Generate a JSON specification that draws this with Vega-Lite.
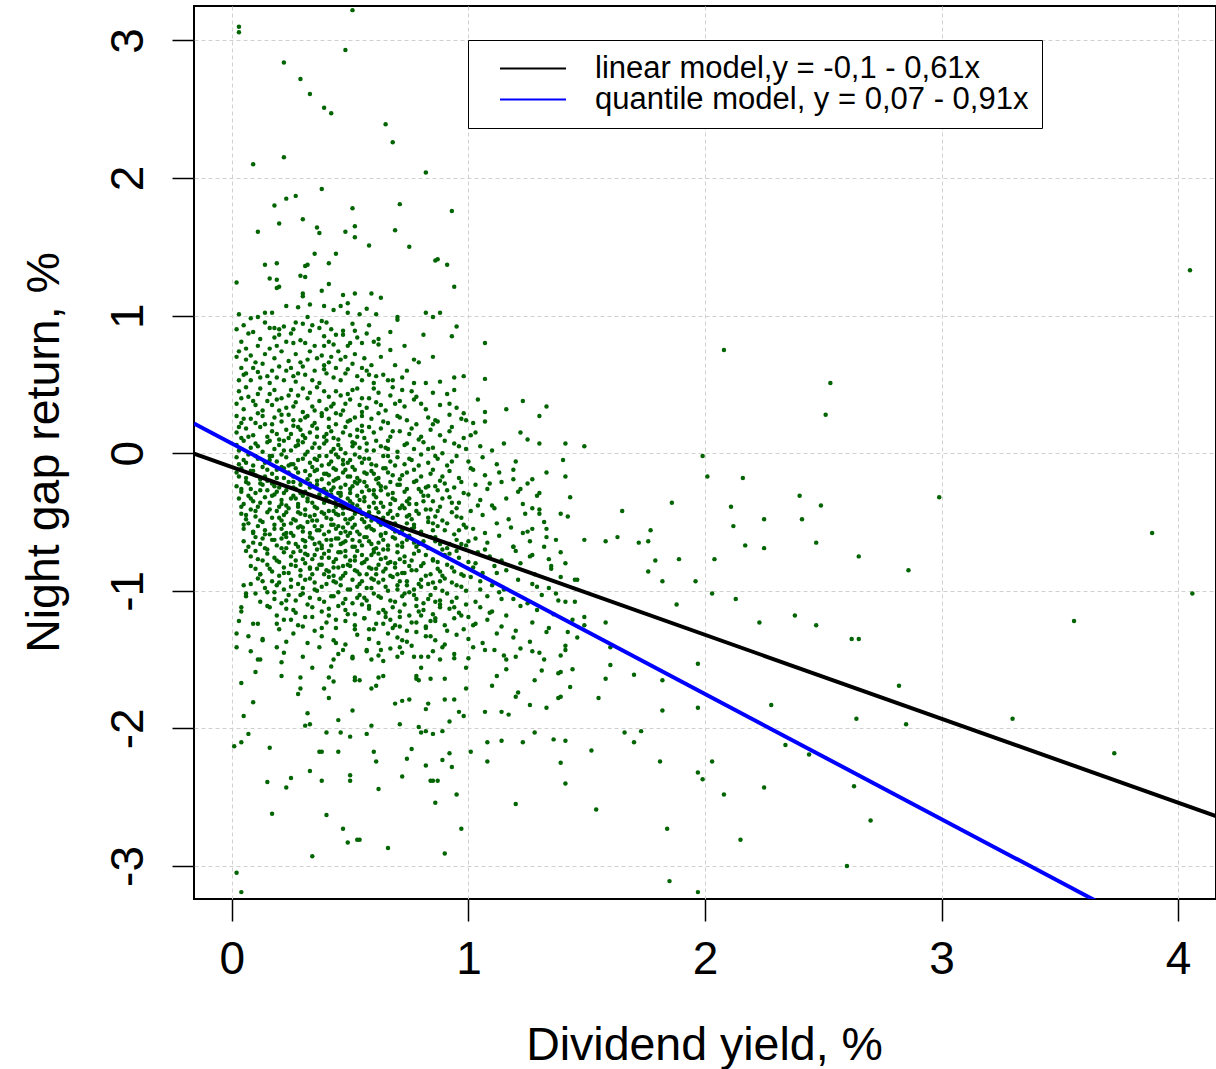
{
"$schema": "https://vega.github.io/schema/vega-lite/v6.json",
"width": 1022, "height": 893,
"autosize": "none",
"padding": {"left": 194, "top": 6, "right": 0, "bottom": 170},
"background": "white",
"config": {"view": {"stroke": "black", "strokeWidth": 2}, "font": "Liberation Sans"},
"layer": [
{
"data": {"values": [
{"x":0.51,"y":3.22},{"x":0.03,"y":3.10},{"x":0.03,"y":3.06},{"x":0.48,"y":2.93},{"x":0.22,"y":2.84},{"x":0.29,"y":2.72},{"x":0.33,"y":2.61},{"x":0.39,"y":2.51},{"x":0.42,"y":2.47},{"x":0.65,"y":2.39},{"x":0.68,"y":2.26},{"x":0.09,"y":2.10},{"x":0.22,"y":2.15},{"x":0.82,"y":2.04},{"x":0.38,"y":1.92},{"x":0.18,"y":1.80},{"x":0.23,"y":1.85},{"x":0.27,"y":1.87},{"x":0.51,"y":1.78},{"x":0.71,"y":1.81},{"x":0.93,"y":1.76},{"x":0.11,"y":1.61},{"x":0.20,"y":1.67},{"x":0.30,"y":1.70},{"x":0.36,"y":1.64},{"x":0.37,"y":1.60},{"x":0.48,"y":1.61},{"x":0.52,"y":1.65},{"x":0.52,"y":1.57},{"x":0.58,"y":1.51},{"x":0.69,"y":1.62},{"x":0.75,"y":1.50},{"x":0.35,"y":1.45},{"x":0.44,"y":1.45},{"x":0.14,"y":1.37},{"x":0.19,"y":1.38},{"x":0.32,"y":1.37},{"x":0.31,"y":1.36},{"x":0.41,"y":1.38},{"x":0.87,"y":1.41},{"x":0.86,"y":1.40},{"x":0.91,"y":1.37},{"x":0.02,"y":1.24},{"x":0.16,"y":1.27},{"x":0.19,"y":1.26},{"x":0.20,"y":1.21},{"x":0.19,"y":1.20},{"x":0.29,"y":1.29},{"x":0.31,"y":1.28},{"x":0.30,"y":1.16},{"x":0.30,"y":1.14},{"x":0.38,"y":1.18},{"x":0.41,"y":1.23},{"x":0.47,"y":1.15},{"x":0.52,"y":1.16},{"x":0.59,"y":1.16},{"x":0.63,"y":1.13},{"x":0.94,"y":1.21},
{"x":0.23,"y":1.07},{"x":0.28,"y":1.06},{"x":0.33,"y":1.08},{"x":0.39,"y":1.07},{"x":0.43,"y":1.04},{"x":0.46,"y":1.07},{"x":0.49,"y":1.09},{"x":0.49,"y":1.02},{"x":0.54,"y":1.01},{"x":0.57,"y":1.05},{"x":0.03,"y":1.01},{"x":0.08,"y":0.98},{"x":0.11,"y":0.99},{"x":0.14,"y":1.02},{"x":0.17,"y":1.02},{"x":0.82,"y":1.02},{"x":0.85,"y":0.99},{"x":0.88,"y":1.02},{"x":0.70,"y":0.99},{"x":0.70,"y":0.97},{"x":0.61,"y":1.01},
{"x":0.02,"y":0.90},{"x":0.07,"y":0.87},{"x":0.12,"y":0.83},{"x":0.16,"y":0.91},{"x":0.18,"y":0.91},{"x":0.20,"y":0.90},{"x":0.20,"y":0.86},{"x":0.26,"y":0.90},{"x":0.27,"y":0.95},{"x":0.30,"y":0.94},{"x":0.32,"y":0.99},{"x":0.34,"y":0.93},{"x":0.38,"y":0.96},{"x":0.40,"y":0.95},{"x":0.42,"y":0.90},{"x":0.39,"y":0.85},{"x":0.47,"y":0.89},{"x":0.47,"y":0.86},{"x":0.51,"y":0.94},{"x":0.53,"y":0.84},{"x":0.57,"y":0.87},{"x":0.62,"y":0.83},{"x":0.67,"y":0.88},{"x":0.81,"y":0.86},{"x":0.93,"y":0.85},{"x":0.95,"y":0.92},{"x":0.04,"y":0.81},{"x":0.06,"y":0.76},{"x":0.11,"y":0.78},{"x":0.16,"y":0.76},{"x":0.19,"y":0.78},{"x":0.23,"y":0.81},{"x":0.26,"y":0.80},{"x":0.31,"y":0.80},{"x":0.35,"y":0.78},{"x":0.39,"y":0.78},{"x":0.41,"y":0.81},{"x":0.43,"y":0.79},{"x":0.49,"y":0.78},{"x":0.50,"y":0.80},{"x":0.55,"y":0.80},{"x":0.60,"y":0.81},{"x":0.62,"y":0.79},{"x":1.07,"y":0.80},
{"x":0.04,"y":0.62},{"x":0.06,"y":0.58},{"x":0.03,"y":0.53},{"x":0.08,"y":0.53},{"x":0.12,"y":0.55},{"x":0.15,"y":0.56},{"x":0.20,"y":0.63},{"x":0.24,"y":0.67},{"x":0.28,"y":0.58},{"x":0.30,"y":0.63},{"x":0.32,"y":0.68},{"x":0.36,"y":0.69},{"x":0.39,"y":0.64},{"x":0.40,"y":0.58},{"x":0.42,"y":0.70},{"x":0.44,"y":0.62},{"x":0.49,"y":0.61},{"x":0.51,"y":0.65},{"x":0.53,"y":0.56},{"x":0.56,"y":0.69},{"x":0.59,"y":0.64},{"x":0.61,"y":0.56},{"x":0.64,"y":0.57},{"x":0.67,"y":0.75},{"x":0.68,"y":0.53},{"x":0.72,"y":0.55},{"x":0.73,"y":0.78},{"x":0.77,"y":0.68},{"x":0.79,"y":0.66},{"x":0.85,"y":0.70},{"x":0.98,"y":0.56},{"x":1.07,"y":0.54},{"x":0.06,"y":0.68},{"x":0.11,"y":0.59},{"x":0.16,"y":0.51},{"x":0.22,"y":0.53},{"x":0.27,"y":0.52},{"x":0.34,"y":0.53},{"x":0.37,"y":0.51},{"x":0.46,"y":0.53},{"x":0.55,"y":0.53},{"x":0.60,"y":0.51},{"x":0.66,"y":0.53},{"x":0.77,"y":0.51},{"x":0.82,"y":0.51},{"x":0.88,"y":0.52},{"x":0.94,"y":0.55},{"x":0.02,"y":0.70},{"x":0.13,"y":0.65},{"x":0.25,"y":0.62},{"x":0.35,"y":0.60},{"x":0.46,"y":0.68},{"x":0.57,"y":0.60},{"x":0.74,"y":0.60},
{"x":1.04,"y":0.39},{"x":1.23,"y":0.38},{"x":1.33,"y":0.34},{"x":1.16,"y":0.32},{"x":1.30,"y":0.27},{"x":1.07,"y":0.30},{"x":1.07,"y":0.23},{"x":1.01,"y":0.13},{"x":0.99,"y":0.24},{"x":0.98,"y":0.29},{"x":0.94,"y":0.46},{"x":0.92,"y":0.36},{"x":0.85,"y":0.21},{"x":1.22,"y":0.15},{"x":1.25,"y":0.10},{"x":1.30,"y":0.07},{"x":1.15,"y":0.07},
{"x":0.03,"y":0.45},{"x":0.07,"y":0.41},{"x":0.12,"y":0.47},{"x":0.16,"y":0.43},{"x":0.21,"y":0.40},{"x":0.25,"y":0.46},{"x":0.28,"y":0.42},{"x":0.33,"y":0.44},{"x":0.36,"y":0.48},{"x":0.41,"y":0.41},{"x":0.44,"y":0.45},{"x":0.49,"y":0.43},{"x":0.53,"y":0.47},{"x":0.58,"y":0.40},{"x":0.62,"y":0.44},{"x":0.67,"y":0.42},{"x":0.72,"y":0.46},{"x":0.78,"y":0.41},{"x":0.85,"y":0.44},{"x":0.91,"y":0.43},
{"x":0.02,"y":0.36},{"x":0.05,"y":0.32},{"x":0.09,"y":0.38},{"x":0.13,"y":0.31},{"x":0.17,"y":0.35},{"x":0.19,"y":0.39},{"x":0.23,"y":0.33},{"x":0.27,"y":0.37},{"x":0.30,"y":0.30},{"x":0.34,"y":0.34},{"x":0.37,"y":0.38},{"x":0.40,"y":0.32},{"x":0.43,"y":0.36},{"x":0.47,"y":0.31},{"x":0.50,"y":0.39},{"x":0.54,"y":0.35},{"x":0.57,"y":0.33},{"x":0.61,"y":0.37},{"x":0.65,"y":0.31},{"x":0.69,"y":0.36},{"x":0.73,"y":0.34},{"x":0.77,"y":0.39},{"x":0.82,"y":0.32},{"x":0.88,"y":0.35},{"x":0.95,"y":0.33},
{"x":0.02,"y":0.27},{"x":0.04,"y":0.22},{"x":0.08,"y":0.25},{"x":0.11,"y":0.29},{"x":0.14,"y":0.21},{"x":0.18,"y":0.26},{"x":0.21,"y":0.23},{"x":0.24,"y":0.28},{"x":0.26,"y":0.20},{"x":0.29,"y":0.24},{"x":0.32,"y":0.27},{"x":0.35,"y":0.22},{"x":0.38,"y":0.29},{"x":0.41,"y":0.25},{"x":0.44,"y":0.21},{"x":0.46,"y":0.28},{"x":0.49,"y":0.23},{"x":0.52,"y":0.26},{"x":0.55,"y":0.20},{"x":0.59,"y":0.25},{"x":0.62,"y":0.29},{"x":0.66,"y":0.22},{"x":0.70,"y":0.27},{"x":0.74,"y":0.24},{"x":0.78,"y":0.21},{"x":0.83,"y":0.26},{"x":0.87,"y":0.23},{"x":0.92,"y":0.28},{"x":0.97,"y":0.25},{"x":1.02,"y":0.22},
{"x":0.02,"y":0.15},{"x":0.04,"y":0.11},{"x":0.06,"y":0.18},{"x":0.09,"y":0.13},{"x":0.12,"y":0.19},{"x":0.15,"y":0.12},{"x":0.17,"y":0.16},{"x":0.20,"y":0.10},{"x":0.23,"y":0.17},{"x":0.25,"y":0.14},{"x":0.28,"y":0.19},{"x":0.31,"y":0.11},{"x":0.33,"y":0.15},{"x":0.36,"y":0.18},{"x":0.39,"y":0.12},{"x":0.42,"y":0.16},{"x":0.45,"y":0.10},{"x":0.48,"y":0.19},{"x":0.50,"y":0.13},{"x":0.53,"y":0.17},{"x":0.56,"y":0.11},{"x":0.60,"y":0.15},{"x":0.63,"y":0.18},{"x":0.67,"y":0.12},{"x":0.71,"y":0.16},{"x":0.75,"y":0.14},{"x":0.79,"y":0.10},{"x":0.84,"y":0.17},{"x":0.88,"y":0.13},{"x":0.93,"y":0.19},{"x":0.98,"y":0.11},{"x":1.03,"y":0.15},{"x":0.40,"y":0.14},{"x":0.30,"y":0.13},{"x":0.55,"y":0.16},
{"x":0.02,"y":0.06},{"x":0.03,"y":0.02},{"x":0.05,"y":0.09},{"x":0.08,"y":0.04},{"x":0.10,"y":0.07},{"x":0.13,"y":0.01},{"x":0.15,"y":0.08},{"x":0.18,"y":0.03},{"x":0.20,"y":0.06},{"x":0.22,"y":0.09},{"x":0.25,"y":0.02},{"x":0.27,"y":0.05},{"x":0.30,"y":0.08},{"x":0.32,"y":0.01},{"x":0.35,"y":0.07},{"x":0.37,"y":0.04},{"x":0.40,"y":0.09},{"x":0.43,"y":0.03},{"x":0.45,"y":0.06},{"x":0.48,"y":0.00},{"x":0.51,"y":0.08},{"x":0.54,"y":0.04},{"x":0.57,"y":0.07},{"x":0.60,"y":0.02},{"x":0.63,"y":0.05},{"x":0.66,"y":0.09},{"x":0.70,"y":0.01},{"x":0.73,"y":0.06},{"x":0.77,"y":0.03},{"x":0.81,"y":0.08},{"x":0.85,"y":0.04},{"x":0.89,"y":0.00},{"x":0.94,"y":0.07},{"x":0.99,"y":0.03},{"x":1.05,"y":0.05},{"x":1.10,"y":0.02},{"x":0.28,"y":0.09},{"x":0.42,"y":0.01},{"x":0.52,"y":0.07},{"x":0.65,"y":0.04},
{"x":0.02,"y":-0.03},{"x":0.03,"y":-0.08},{"x":0.05,"y":-0.05},{"x":0.07,"y":-0.01},{"x":0.09,"y":-0.09},{"x":0.11,"y":-0.04},{"x":0.14,"y":-0.07},{"x":0.16,"y":-0.02},{"x":0.19,"y":-0.06},{"x":0.21,"y":-0.10},{"x":0.23,"y":-0.03},{"x":0.26,"y":-0.08},{"x":0.28,"y":-0.05},{"x":0.31,"y":-0.01},{"x":0.33,"y":-0.07},{"x":0.35,"y":-0.04},{"x":0.38,"y":-0.09},{"x":0.40,"y":-0.02},{"x":0.42,"y":-0.06},{"x":0.45,"y":-0.03},{"x":0.47,"y":-0.08},{"x":0.50,"y":-0.05},{"x":0.52,"y":-0.01},{"x":0.55,"y":-0.07},{"x":0.58,"y":-0.04},{"x":0.61,"y":-0.09},{"x":0.64,"y":-0.02},{"x":0.67,"y":-0.06},{"x":0.70,"y":-0.03},{"x":0.73,"y":-0.08},{"x":0.76,"y":-0.05},{"x":0.80,"y":-0.01},{"x":0.83,"y":-0.07},{"x":0.87,"y":-0.04},{"x":0.91,"y":-0.09},{"x":0.95,"y":-0.02},{"x":1.00,"y":-0.06},{"x":1.06,"y":-0.03},{"x":1.12,"y":-0.08},{"x":0.36,"y":-0.05},{"x":0.44,"y":-0.01},{"x":0.49,"y":-0.07},{"x":0.56,"y":-0.04},{"x":0.24,"y":-0.09},{"x":0.17,"y":-0.02},
{"x":0.02,"y":-0.14},{"x":0.04,"y":-0.11},{"x":0.06,"y":-0.18},{"x":0.08,"y":-0.13},{"x":0.10,"y":-0.16},{"x":0.12,"y":-0.19},{"x":0.15,"y":-0.12},{"x":0.17,"y":-0.15},{"x":0.19,"y":-0.18},{"x":0.22,"y":-0.11},{"x":0.24,"y":-0.14},{"x":0.26,"y":-0.17},{"x":0.29,"y":-0.20},{"x":0.31,"y":-0.13},{"x":0.33,"y":-0.16},{"x":0.36,"y":-0.12},{"x":0.38,"y":-0.19},{"x":0.40,"y":-0.15},{"x":0.43,"y":-0.11},{"x":0.45,"y":-0.18},{"x":0.47,"y":-0.14},{"x":0.50,"y":-0.17},{"x":0.52,"y":-0.12},{"x":0.54,"y":-0.20},{"x":0.57,"y":-0.15},{"x":0.59,"y":-0.13},{"x":0.62,"y":-0.18},{"x":0.65,"y":-0.11},{"x":0.68,"y":-0.16},{"x":0.71,"y":-0.19},{"x":0.74,"y":-0.14},{"x":0.77,"y":-0.12},{"x":0.80,"y":-0.17},{"x":0.84,"y":-0.15},{"x":0.88,"y":-0.20},{"x":0.92,"y":-0.13},{"x":0.96,"y":-0.18},{"x":1.01,"y":-0.11},{"x":1.07,"y":-0.16},{"x":1.13,"y":-0.14},{"x":1.19,"y":-0.19},{"x":0.35,"y":-0.13},{"x":0.41,"y":-0.16},{"x":0.48,"y":-0.12},{"x":0.53,"y":-0.18},{"x":0.60,"y":-0.15},{"x":0.27,"y":-0.11},{"x":0.14,"y":-0.17},{"x":0.66,"y":-0.14},{"x":0.44,"y":-0.19},
{"x":0.02,"y":-0.24},{"x":0.04,"y":-0.28},{"x":0.06,"y":-0.21},{"x":0.08,"y":-0.26},{"x":0.10,"y":-0.29},{"x":0.13,"y":-0.23},{"x":0.15,"y":-0.27},{"x":0.17,"y":-0.22},{"x":0.20,"y":-0.25},{"x":0.22,"y":-0.29},{"x":0.24,"y":-0.21},{"x":0.27,"y":-0.26},{"x":0.29,"y":-0.23},{"x":0.31,"y":-0.28},{"x":0.34,"y":-0.24},{"x":0.36,"y":-0.20},{"x":0.38,"y":-0.27},{"x":0.41,"y":-0.22},{"x":0.43,"y":-0.25},{"x":0.45,"y":-0.29},{"x":0.48,"y":-0.23},{"x":0.50,"y":-0.26},{"x":0.52,"y":-0.21},{"x":0.55,"y":-0.28},{"x":0.57,"y":-0.24},{"x":0.60,"y":-0.27},{"x":0.62,"y":-0.22},{"x":0.65,"y":-0.25},{"x":0.68,"y":-0.29},{"x":0.71,"y":-0.23},{"x":0.74,"y":-0.26},{"x":0.77,"y":-0.21},{"x":0.80,"y":-0.28},{"x":0.83,"y":-0.24},{"x":0.87,"y":-0.27},{"x":0.90,"y":-0.22},{"x":0.94,"y":-0.25},{"x":0.98,"y":-0.29},{"x":1.03,"y":-0.23},{"x":1.08,"y":-0.26},{"x":1.14,"y":-0.21},{"x":1.21,"y":-0.28},{"x":0.33,"y":-0.22},{"x":0.39,"y":-0.26},{"x":0.46,"y":-0.29},{"x":0.51,"y":-0.24},{"x":0.56,"y":-0.21},{"x":0.63,"y":-0.27},{"x":0.70,"y":-0.23},{"x":0.26,"y":-0.25},{"x":0.19,"y":-0.28},{"x":0.12,"y":-0.22},{"x":0.79,"y":-0.26},{"x":0.86,"y":-0.24},{"x":0.42,"y":-0.27},
{"x":0.03,"y":-0.33},{"x":0.05,"y":-0.37},{"x":0.07,"y":-0.31},{"x":0.09,"y":-0.35},{"x":0.11,"y":-0.39},{"x":0.14,"y":-0.32},{"x":0.16,"y":-0.36},{"x":0.18,"y":-0.30},{"x":0.21,"y":-0.34},{"x":0.23,"y":-0.38},{"x":0.25,"y":-0.33},{"x":0.28,"y":-0.37},{"x":0.30,"y":-0.31},{"x":0.32,"y":-0.35},{"x":0.35,"y":-0.39},{"x":0.37,"y":-0.32},{"x":0.39,"y":-0.36},{"x":0.42,"y":-0.30},{"x":0.44,"y":-0.34},{"x":0.46,"y":-0.38},{"x":0.49,"y":-0.33},{"x":0.51,"y":-0.37},{"x":0.53,"y":-0.31},{"x":0.56,"y":-0.35},{"x":0.58,"y":-0.39},{"x":0.61,"y":-0.32},{"x":0.63,"y":-0.36},{"x":0.66,"y":-0.30},{"x":0.69,"y":-0.34},{"x":0.72,"y":-0.38},{"x":0.75,"y":-0.33},{"x":0.78,"y":-0.37},{"x":0.81,"y":-0.31},{"x":0.85,"y":-0.35},{"x":0.88,"y":-0.39},{"x":0.92,"y":-0.32},{"x":0.96,"y":-0.36},{"x":1.00,"y":-0.30},{"x":1.05,"y":-0.34},{"x":1.10,"y":-0.38},{"x":1.16,"y":-0.33},{"x":1.23,"y":-0.37},{"x":1.29,"y":-0.31},{"x":0.34,"y":-0.36},{"x":0.40,"y":-0.32},{"x":0.47,"y":-0.38},{"x":0.54,"y":-0.34},{"x":0.60,"y":-0.30},{"x":0.67,"y":-0.37},{"x":0.27,"y":-0.33},{"x":0.20,"y":-0.39},{"x":0.74,"y":-0.35},{"x":0.83,"y":-0.31},{"x":0.93,"y":-0.36},{"x":0.45,"y":-0.34},
{"x":0.04,"y":-0.44},{"x":0.06,"y":-0.48},{"x":0.08,"y":-0.41},{"x":0.10,"y":-0.46},{"x":0.12,"y":-0.49},{"x":0.15,"y":-0.43},{"x":0.17,"y":-0.47},{"x":0.19,"y":-0.42},{"x":0.22,"y":-0.45},{"x":0.24,"y":-0.40},{"x":0.26,"y":-0.48},{"x":0.29,"y":-0.44},{"x":0.31,"y":-0.41},{"x":0.33,"y":-0.46},{"x":0.36,"y":-0.49},{"x":0.38,"y":-0.43},{"x":0.40,"y":-0.47},{"x":0.43,"y":-0.42},{"x":0.45,"y":-0.45},{"x":0.47,"y":-0.40},{"x":0.50,"y":-0.48},{"x":0.52,"y":-0.44},{"x":0.54,"y":-0.41},{"x":0.57,"y":-0.46},{"x":0.59,"y":-0.49},{"x":0.62,"y":-0.43},{"x":0.64,"y":-0.47},{"x":0.67,"y":-0.42},{"x":0.70,"y":-0.45},{"x":0.73,"y":-0.40},{"x":0.76,"y":-0.48},{"x":0.79,"y":-0.44},{"x":0.82,"y":-0.41},{"x":0.86,"y":-0.46},{"x":0.89,"y":-0.49},{"x":0.93,"y":-0.43},{"x":0.97,"y":-0.47},{"x":1.01,"y":-0.42},{"x":1.06,"y":-0.45},{"x":1.11,"y":-0.40},{"x":1.17,"y":-0.48},{"x":1.24,"y":-0.44},{"x":1.30,"y":-0.41},{"x":0.35,"y":-0.45},{"x":0.41,"y":-0.42},{"x":0.48,"y":-0.48},{"x":0.55,"y":-0.44},{"x":0.61,"y":-0.40},{"x":0.68,"y":-0.47},{"x":0.28,"y":-0.43},{"x":0.21,"y":-0.49},{"x":0.75,"y":-0.45},{"x":0.84,"y":-0.41},{"x":0.95,"y":-0.46},{"x":0.44,"y":-0.44},
{"x":0.05,"y":-0.55},{"x":0.07,"y":-0.51},{"x":0.09,"y":-0.58},{"x":0.11,"y":-0.53},{"x":0.14,"y":-0.56},{"x":0.16,"y":-0.59},{"x":0.18,"y":-0.52},{"x":0.21,"y":-0.55},{"x":0.23,"y":-0.58},{"x":0.25,"y":-0.51},{"x":0.28,"y":-0.54},{"x":0.30,"y":-0.57},{"x":0.32,"y":-0.50},{"x":0.35,"y":-0.53},{"x":0.37,"y":-0.56},{"x":0.39,"y":-0.59},{"x":0.42,"y":-0.52},{"x":0.44,"y":-0.55},{"x":0.46,"y":-0.58},{"x":0.49,"y":-0.51},{"x":0.51,"y":-0.54},{"x":0.53,"y":-0.57},{"x":0.56,"y":-0.50},{"x":0.58,"y":-0.53},{"x":0.60,"y":-0.56},{"x":0.63,"y":-0.59},{"x":0.65,"y":-0.52},{"x":0.68,"y":-0.55},{"x":0.71,"y":-0.58},{"x":0.74,"y":-0.51},{"x":0.77,"y":-0.54},{"x":0.80,"y":-0.57},{"x":0.83,"y":-0.50},{"x":0.87,"y":-0.53},{"x":0.90,"y":-0.56},{"x":0.94,"y":-0.59},{"x":0.98,"y":-0.52},{"x":1.02,"y":-0.55},{"x":1.07,"y":-0.58},{"x":1.12,"y":-0.51},{"x":1.18,"y":-0.54},{"x":1.25,"y":-0.57},{"x":1.32,"y":-0.50},{"x":0.36,"y":-0.56},{"x":0.43,"y":-0.52},{"x":0.50,"y":-0.58},{"x":0.57,"y":-0.54},{"x":0.62,"y":-0.50},{"x":0.69,"y":-0.57},{"x":0.29,"y":-0.53},{"x":0.22,"y":-0.59},{"x":0.76,"y":-0.55},{"x":0.85,"y":-0.51},{"x":0.96,"y":-0.56},{"x":0.47,"y":-0.54},
{"x":0.05,"y":-0.64},{"x":0.07,"y":-0.68},{"x":0.10,"y":-0.61},{"x":0.12,"y":-0.66},{"x":0.14,"y":-0.69},{"x":0.17,"y":-0.63},{"x":0.19,"y":-0.67},{"x":0.21,"y":-0.62},{"x":0.24,"y":-0.65},{"x":0.26,"y":-0.60},{"x":0.28,"y":-0.68},{"x":0.31,"y":-0.64},{"x":0.33,"y":-0.61},{"x":0.35,"y":-0.66},{"x":0.38,"y":-0.69},{"x":0.40,"y":-0.63},{"x":0.42,"y":-0.67},{"x":0.45,"y":-0.62},{"x":0.47,"y":-0.65},{"x":0.49,"y":-0.60},{"x":0.52,"y":-0.68},{"x":0.54,"y":-0.64},{"x":0.56,"y":-0.61},{"x":0.59,"y":-0.66},{"x":0.61,"y":-0.69},{"x":0.64,"y":-0.63},{"x":0.66,"y":-0.67},{"x":0.69,"y":-0.62},{"x":0.72,"y":-0.65},{"x":0.75,"y":-0.60},{"x":0.78,"y":-0.68},{"x":0.81,"y":-0.64},{"x":0.84,"y":-0.61},{"x":0.88,"y":-0.66},{"x":0.91,"y":-0.69},{"x":0.95,"y":-0.63},{"x":0.99,"y":-0.67},{"x":1.03,"y":-0.62},{"x":1.08,"y":-0.65},{"x":1.13,"y":-0.60},{"x":1.19,"y":-0.68},{"x":1.26,"y":-0.64},{"x":1.33,"y":-0.61},{"x":0.37,"y":-0.65},{"x":0.44,"y":-0.62},{"x":0.51,"y":-0.68},{"x":0.58,"y":-0.64},{"x":0.63,"y":-0.60},{"x":0.70,"y":-0.67},{"x":0.30,"y":-0.63},{"x":0.23,"y":-0.69},{"x":0.77,"y":-0.65},{"x":0.86,"y":-0.61},{"x":0.97,"y":-0.66},{"x":0.48,"y":-0.64},
{"x":0.08,"y":-0.75},{"x":0.10,"y":-0.71},{"x":0.13,"y":-0.78},{"x":0.15,"y":-0.73},{"x":0.18,"y":-0.76},{"x":0.20,"y":-0.79},{"x":0.22,"y":-0.72},{"x":0.25,"y":-0.75},{"x":0.27,"y":-0.78},{"x":0.29,"y":-0.71},{"x":0.32,"y":-0.74},{"x":0.34,"y":-0.77},{"x":0.36,"y":-0.70},{"x":0.39,"y":-0.73},{"x":0.41,"y":-0.76},{"x":0.43,"y":-0.79},{"x":0.46,"y":-0.72},{"x":0.48,"y":-0.75},{"x":0.50,"y":-0.78},{"x":0.53,"y":-0.71},{"x":0.55,"y":-0.74},{"x":0.57,"y":-0.77},{"x":0.60,"y":-0.70},{"x":0.62,"y":-0.73},{"x":0.65,"y":-0.76},{"x":0.67,"y":-0.79},{"x":0.70,"y":-0.72},{"x":0.73,"y":-0.75},{"x":0.76,"y":-0.78},{"x":0.79,"y":-0.71},{"x":0.82,"y":-0.74},{"x":0.85,"y":-0.77},{"x":0.89,"y":-0.70},{"x":0.92,"y":-0.73},{"x":0.96,"y":-0.76},{"x":1.00,"y":-0.79},{"x":1.04,"y":-0.72},{"x":1.09,"y":-0.75},{"x":1.14,"y":-0.78},{"x":1.20,"y":-0.71},{"x":1.27,"y":-0.74},{"x":1.34,"y":-0.77},{"x":0.38,"y":-0.76},{"x":0.45,"y":-0.72},{"x":0.52,"y":-0.78},{"x":0.59,"y":-0.74},{"x":0.64,"y":-0.70},{"x":0.71,"y":-0.77},{"x":0.31,"y":-0.73},{"x":0.87,"y":-0.79},
{"x":0.10,"y":-0.84},{"x":0.12,"y":-0.88},{"x":0.15,"y":-0.81},{"x":0.17,"y":-0.86},{"x":0.20,"y":-0.89},{"x":0.22,"y":-0.83},{"x":0.24,"y":-0.87},{"x":0.27,"y":-0.82},{"x":0.29,"y":-0.85},{"x":0.31,"y":-0.80},{"x":0.34,"y":-0.88},{"x":0.36,"y":-0.84},{"x":0.38,"y":-0.81},{"x":0.41,"y":-0.86},{"x":0.43,"y":-0.89},{"x":0.45,"y":-0.83},{"x":0.48,"y":-0.87},{"x":0.50,"y":-0.82},{"x":0.52,"y":-0.85},{"x":0.55,"y":-0.80},{"x":0.57,"y":-0.88},{"x":0.59,"y":-0.84},{"x":0.62,"y":-0.81},{"x":0.64,"y":-0.86},{"x":0.67,"y":-0.89},{"x":0.69,"y":-0.83},{"x":0.72,"y":-0.87},{"x":0.75,"y":-0.82},{"x":0.78,"y":-0.85},{"x":0.81,"y":-0.80},{"x":0.84,"y":-0.88},{"x":0.87,"y":-0.84},{"x":0.91,"y":-0.81},{"x":0.94,"y":-0.86},{"x":0.98,"y":-0.89},{"x":1.02,"y":-0.83},{"x":1.06,"y":-0.87},{"x":1.11,"y":-0.82},{"x":1.16,"y":-0.85},{"x":1.22,"y":-0.80},{"x":1.28,"y":-0.88},{"x":1.35,"y":-0.84},{"x":0.40,"y":-0.85},{"x":0.47,"y":-0.82},{"x":0.54,"y":-0.88},{"x":0.61,"y":-0.84},{"x":0.66,"y":-0.80},{"x":0.73,"y":-0.87},{"x":0.33,"y":-0.83},{"x":0.89,"y":-0.89},
{"x":0.08,"y":-0.95},{"x":0.11,"y":-0.91},{"x":0.14,"y":-0.98},{"x":0.17,"y":-0.93},{"x":0.19,"y":-0.96},{"x":0.22,"y":-0.99},{"x":0.25,"y":-0.92},{"x":0.28,"y":-0.95},{"x":0.30,"y":-0.98},{"x":0.33,"y":-0.91},{"x":0.35,"y":-0.94},{"x":0.38,"y":-0.97},{"x":0.41,"y":-0.90},{"x":0.43,"y":-0.93},{"x":0.46,"y":-0.96},{"x":0.49,"y":-0.99},{"x":0.51,"y":-0.92},{"x":0.54,"y":-0.95},{"x":0.57,"y":-0.98},{"x":0.59,"y":-0.91},{"x":0.62,"y":-0.94},{"x":0.65,"y":-0.97},{"x":0.68,"y":-0.90},{"x":0.71,"y":-0.93},{"x":0.74,"y":-0.96},{"x":0.77,"y":-0.99},{"x":0.80,"y":-0.92},{"x":0.83,"y":-0.95},{"x":0.86,"y":-0.98},{"x":0.90,"y":-0.91},{"x":0.93,"y":-0.94},{"x":0.97,"y":-0.97},{"x":1.01,"y":-0.90},{"x":1.05,"y":-0.93},{"x":1.10,"y":-0.96},{"x":1.15,"y":-0.99},{"x":1.21,"y":-0.92},{"x":1.27,"y":-0.95},{"x":1.34,"y":-0.98},{"x":0.44,"y":-0.94},{"x":0.53,"y":-0.97},{"x":0.60,"y":-0.92},{"x":0.70,"y":-0.99},{"x":0.79,"y":-0.95},{"x":0.88,"y":-0.93},
{"x":0.06,"y":-1.04},{"x":0.12,"y":-1.08},{"x":0.15,"y":-1.01},{"x":0.18,"y":-1.06},{"x":0.21,"y":-1.09},{"x":0.24,"y":-1.03},{"x":0.27,"y":-1.07},{"x":0.30,"y":-1.02},{"x":0.33,"y":-1.05},{"x":0.36,"y":-1.00},{"x":0.39,"y":-1.08},{"x":0.42,"y":-1.04},{"x":0.45,"y":-1.01},{"x":0.48,"y":-1.06},{"x":0.51,"y":-1.09},{"x":0.54,"y":-1.03},{"x":0.57,"y":-1.07},{"x":0.60,"y":-1.02},{"x":0.63,"y":-1.05},{"x":0.66,"y":-1.00},{"x":0.69,"y":-1.08},{"x":0.72,"y":-1.04},{"x":0.75,"y":-1.01},{"x":0.78,"y":-1.06},{"x":0.81,"y":-1.09},{"x":0.84,"y":-1.03},{"x":0.88,"y":-1.07},{"x":0.91,"y":-1.02},{"x":0.95,"y":-1.05},{"x":0.99,"y":-1.00},{"x":1.03,"y":-1.08},{"x":1.08,"y":-1.04},{"x":1.13,"y":-1.01},{"x":1.19,"y":-1.06},{"x":1.25,"y":-1.09},{"x":1.31,"y":-1.03},{"x":1.38,"y":-1.07},{"x":0.56,"y":-1.05},{"x":0.73,"y":-1.02},{"x":0.86,"y":-1.08},
{"x":0.04,"y":-1.15},{"x":0.15,"y":-1.11},{"x":0.19,"y":-1.18},{"x":0.23,"y":-1.13},{"x":0.27,"y":-1.16},{"x":0.31,"y":-1.19},{"x":0.34,"y":-1.12},{"x":0.38,"y":-1.15},{"x":0.41,"y":-1.18},{"x":0.45,"y":-1.11},{"x":0.48,"y":-1.14},{"x":0.52,"y":-1.17},{"x":0.55,"y":-1.10},{"x":0.58,"y":-1.13},{"x":0.62,"y":-1.16},{"x":0.65,"y":-1.19},{"x":0.68,"y":-1.12},{"x":0.71,"y":-1.15},{"x":0.75,"y":-1.18},{"x":0.78,"y":-1.11},{"x":0.81,"y":-1.14},{"x":0.85,"y":-1.17},{"x":0.88,"y":-1.10},{"x":0.92,"y":-1.13},{"x":0.96,"y":-1.16},{"x":1.00,"y":-1.19},{"x":1.05,"y":-1.12},{"x":1.10,"y":-1.15},{"x":1.16,"y":-1.18},{"x":1.22,"y":-1.11},{"x":1.29,"y":-1.14},{"x":1.36,"y":-1.17},{"x":0.64,"y":-1.14},{"x":0.80,"y":-1.18},{"x":0.94,"y":-1.12},
{"x":0.09,"y":-1.24},{"x":0.20,"y":-1.28},{"x":0.25,"y":-1.21},{"x":0.30,"y":-1.26},{"x":0.35,"y":-1.29},{"x":0.40,"y":-1.23},{"x":0.44,"y":-1.27},{"x":0.48,"y":-1.22},{"x":0.52,"y":-1.25},{"x":0.56,"y":-1.20},{"x":0.60,"y":-1.28},{"x":0.64,"y":-1.24},{"x":0.67,"y":-1.21},{"x":0.71,"y":-1.26},{"x":0.74,"y":-1.29},{"x":0.78,"y":-1.23},{"x":0.82,"y":-1.27},{"x":0.86,"y":-1.22},{"x":0.90,"y":-1.25},{"x":0.94,"y":-1.20},{"x":0.98,"y":-1.28},{"x":1.03,"y":-1.24},{"x":1.08,"y":-1.21},{"x":1.14,"y":-1.26},{"x":1.20,"y":-1.29},{"x":1.27,"y":-1.23},{"x":1.34,"y":-1.27},{"x":0.69,"y":-1.25},{"x":0.84,"y":-1.22},{"x":0.58,"y":-1.28},
{"x":0.13,"y":-1.35},{"x":0.26,"y":-1.31},{"x":0.32,"y":-1.38},{"x":0.38,"y":-1.33},{"x":0.43,"y":-1.36},{"x":0.48,"y":-1.39},{"x":0.53,"y":-1.32},{"x":0.58,"y":-1.35},{"x":0.62,"y":-1.38},{"x":0.66,"y":-1.31},{"x":0.70,"y":-1.34},{"x":0.74,"y":-1.37},{"x":0.78,"y":-1.30},{"x":0.82,"y":-1.33},{"x":0.86,"y":-1.36},{"x":0.90,"y":-1.39},{"x":0.95,"y":-1.32},{"x":1.00,"y":-1.35},{"x":1.06,"y":-1.38},{"x":1.12,"y":-1.31},{"x":1.19,"y":-1.34},{"x":1.26,"y":-1.37},{"x":1.33,"y":-1.30},{"x":0.72,"y":-1.36},{"x":0.84,"y":-1.33},
{"x":0.08,"y":-1.44},{"x":0.30,"y":-1.48},{"x":0.37,"y":-1.41},{"x":0.45,"y":-1.46},{"x":0.51,"y":-1.49},{"x":0.57,"y":-1.43},{"x":0.62,"y":-1.47},{"x":0.67,"y":-1.42},{"x":0.72,"y":-1.45},{"x":0.76,"y":-1.40},{"x":0.80,"y":-1.48},{"x":0.85,"y":-1.44},{"x":0.89,"y":-1.41},{"x":0.94,"y":-1.46},{"x":1.00,"y":-1.49},{"x":1.07,"y":-1.43},{"x":1.15,"y":-1.47},{"x":1.22,"y":-1.42},{"x":1.30,"y":-1.45},{"x":0.70,"y":-1.48},
{"x":0.03,"y":-1.22},{"x":0.02,"y":-1.31},{"x":0.02,"y":-1.41},{"x":0.07,"y":-1.33},{"x":0.11,"y":-1.24},{"x":0.13,"y":-1.36},{"x":0.19,"y":-1.24},{"x":0.19,"y":-1.41},{"x":0.23,"y":-1.37},{"x":0.22,"y":-1.45},{"x":0.11,"y":-1.50},{"x":0.05,"y":-0.96},{"x":0.06,"y":-1.02},{"x":0.04,"y":-1.12},
{"x":0.44,"y":-1.38},{"x":0.47,"y":-1.43},{"x":0.51,"y":-1.48},{"x":0.43,"y":-1.50},{"x":0.57,"y":-1.44},{"x":0.59,"y":-1.50},{"x":0.63,"y":-1.43},{"x":0.64,"y":-1.51},{"x":0.71,"y":-1.41},{"x":0.77,"y":-1.48},{"x":0.78,"y":-1.62},{"x":0.79,"y":-1.65},{"x":0.80,"y":-1.56},{"x":0.83,"y":-1.48},{"x":0.88,"y":-1.50},{"x":0.94,"y":-1.49},{"x":0.99,"y":-1.56},{"x":1.02,"y":-1.41},{"x":1.11,"y":-1.43},{"x":1.16,"y":-1.50},{"x":1.20,"y":-1.48},{"x":1.27,"y":-1.44},{"x":1.32,"y":-1.50},{"x":0.52,"y":-1.65},{"x":0.64,"y":-1.62},{"x":0.42,"y":-1.55},
{"x":1.33,"y":-0.14},{"x":1.39,"y":-0.44},{"x":1.35,"y":-0.82},{"x":1.19,"y":-0.12},{"x":1.20,"y":-0.06},{"x":1.27,"y":-0.19},{"x":1.30,"y":-0.29},{"x":1.25,"y":-0.22},{"x":1.22,"y":-0.26},{"x":1.27,"y":-0.40},{"x":1.30,"y":-0.44},{"x":1.27,"y":-0.55},{"x":1.23,"y":-0.58},{"x":1.33,"y":-0.55},{"x":1.37,"y":-0.63},{"x":1.32,"y":-0.68},{"x":1.26,"y":-0.75},{"x":1.19,"y":-0.68},{"x":1.46,"y":-0.92},{"x":1.37,"y":-1.02},{"x":1.29,"y":-0.97},
{"x":0.01,"y":-2.13},{"x":0.04,"y":-2.10},{"x":0.07,"y":-2.04},{"x":0.16,"y":-2.14},{"x":0.05,"y":-1.91},{"x":0.09,"y":-1.81},{"x":0.04,"y":-1.67},{"x":0.10,"y":-1.59},{"x":0.12,"y":-1.50},{"x":0.15,"y":-2.39},{"x":0.17,"y":-2.62},{"x":0.23,"y":-2.43},{"x":0.25,"y":-2.36},{"x":0.33,"y":-2.31},{"x":0.38,"y":-2.38},{"x":0.37,"y":-2.17},{"x":0.38,"y":-2.17},{"x":0.45,"y":-2.17},{"x":0.40,"y":-2.63},{"x":0.47,"y":-2.73},{"x":0.49,"y":-2.83},{"x":0.53,"y":-2.81},{"x":0.54,"y":-2.81},{"x":0.34,"y":-2.93},{"x":0.50,"y":-2.34},{"x":0.50,"y":-2.38},{"x":0.60,"y":-2.17},{"x":0.61,"y":-2.24},{"x":0.62,"y":-2.44},{"x":0.66,"y":-2.87},{"x":0.72,"y":-2.35},{"x":0.74,"y":-2.22},{"x":0.76,"y":-2.15},{"x":0.82,"y":-2.27},{"x":0.84,"y":-2.38},{"x":0.85,"y":-2.38},{"x":0.87,"y":-2.38},{"x":0.86,"y":-2.54},{"x":0.89,"y":-2.23},{"x":0.92,"y":-2.18},{"x":0.93,"y":-2.28},{"x":0.95,"y":-2.48},{"x":0.97,"y":-2.73},{"x":0.90,"y":-2.91},{"x":1.01,"y":-2.17},{"x":1.08,"y":-2.10},{"x":1.08,"y":-2.24},{"x":1.14,"y":-2.09},{"x":1.23,"y":-2.10},{"x":1.20,"y":-2.55},{"x":1.28,"y":-2.03},{"x":1.36,"y":-2.08},{"x":0.02,"y":-3.05},{"x":0.04,"y":-3.19},
{"x":0.31,"y":-1.98},{"x":0.33,"y":-1.97},{"x":0.40,"y":-2.03},{"x":0.45,"y":-1.94},{"x":0.46,"y":-2.03},{"x":0.50,"y":-2.06},{"x":0.57,"y":-2.04},{"x":0.59,"y":-1.98},{"x":0.51,"y":-1.87},{"x":0.71,"y":-1.97},{"x":0.79,"y":-1.99},{"x":0.80,"y":-2.03},{"x":0.82,"y":-2.02},{"x":0.85,"y":-2.04},{"x":0.89,"y":-2.02},{"x":0.92,"y":-1.95},{"x":0.96,"y":-1.88},{"x":0.98,"y":-1.91},{"x":0.32,"y":-1.89},{"x":0.28,"y":-1.75},{"x":0.29,"y":-1.71},{"x":0.39,"y":-1.71},{"x":0.41,"y":-1.78},{"x":0.69,"y":-1.82},{"x":0.72,"y":-1.80},{"x":0.75,"y":-1.79},{"x":0.82,"y":-1.86},{"x":0.83,"y":-1.82},{"x":0.90,"y":-1.79},{"x":0.94,"y":-1.79},{"x":1.07,"y":-1.88},{"x":1.14,"y":-1.88},{"x":1.17,"y":-1.90},{"x":1.26,"y":-1.83},{"x":1.33,"y":-1.85},{"x":1.38,"y":-1.78},{"x":1.20,"y":-1.77},{"x":1.21,"y":-1.74},{"x":1.10,"y":-1.69},{"x":0.99,"y":-1.71},{"x":0.21,"y":-1.62},{"x":0.21,"y":-1.52},{"x":0.29,"y":-1.63},{"x":0.34,"y":-1.56},{"x":0.41,"y":-1.63},{"x":0.43,"y":-1.66},{"x":0.52,"y":-1.63},{"x":0.54,"y":-1.65},{"x":0.59,"y":-1.71},{"x":0.61,"y":-1.69},{"x":0.62,"y":-1.63},{"x":0.78,"y":-1.64},{"x":0.84,"y":-1.64},{"x":0.90,"y":-1.64},{"x":1.28,"y":-1.65},{"x":1.31,"y":-1.58},{"x":1.38,"y":-1.60},{"x":1.16,"y":-1.57},{"x":1.12,"y":-1.62},
{"x":2.53,"y":0.51},{"x":2.51,"y":0.28},{"x":1.41,"y":0.07},{"x":1.49,"y":0.05},{"x":1.99,"y":-0.02},{"x":1.40,"y":-0.05},{"x":1.41,"y":-0.17},{"x":2.01,"y":-0.17},{"x":2.16,"y":-0.18},{"x":1.43,"y":-0.32},{"x":1.86,"y":-0.36},{"x":2.40,"y":-0.31},{"x":2.99,"y":-0.32},{"x":1.65,"y":-0.42},{"x":2.11,"y":-0.39},{"x":2.49,"y":-0.38},{"x":1.42,"y":-0.46},{"x":2.25,"y":-0.48},{"x":2.41,"y":-0.48},{"x":2.12,"y":-0.53},{"x":1.49,"y":-0.63},{"x":1.58,"y":-0.64},{"x":1.63,"y":-0.61},{"x":1.72,"y":-0.65},{"x":1.76,"y":-0.64},{"x":1.77,"y":-0.56},{"x":2.17,"y":-0.67},{"x":2.25,"y":-0.69},{"x":2.47,"y":-0.65},{"x":3.89,"y":-0.58},{"x":1.39,"y":-0.72},{"x":1.41,"y":-0.80},{"x":1.79,"y":-0.78},{"x":1.89,"y":-0.77},{"x":2.04,"y":-0.77},{"x":2.65,"y":-0.75},{"x":1.76,"y":-0.86},{"x":2.86,"y":-0.85},{"x":1.45,"y":-0.92},{"x":1.82,"y":-0.93},{"x":1.96,"y":-0.93},{"x":1.39,"y":-0.90},{"x":4.06,"y":-1.02},{"x":2.03,"y":-1.02},{"x":2.13,"y":-1.06},{"x":1.41,"y":-1.08},{"x":1.45,"y":-1.08},{"x":1.88,"y":-1.10},{"x":2.38,"y":-1.18},{"x":2.23,"y":-1.23},{"x":2.47,"y":-1.25},{"x":3.56,"y":-1.22},{"x":1.49,"y":-1.19},{"x":1.49,"y":-1.25},{"x":1.44,"y":-1.21},{"x":1.58,"y":-1.23},{"x":1.42,"y":-1.30},{"x":1.46,"y":-1.34},{"x":2.62,"y":-1.35},{"x":2.65,"y":-1.35},{"x":1.41,"y":-1.40},{"x":1.41,"y":-1.43},{"x":1.39,"y":-1.47},{"x":1.60,"y":-1.41},{"x":1.60,"y":-1.54},{"x":1.44,"y":-1.57},{"x":1.39,"y":-1.59},{"x":1.97,"y":-1.53},{"x":1.58,"y":-1.64},{"x":1.70,"y":-1.61},{"x":1.82,"y":-1.65},{"x":2.82,"y":-1.69},{"x":1.43,"y":-1.70},{"x":1.39,"y":-1.77},{"x":1.55,"y":-1.78},{"x":2.28,"y":-1.83},{"x":1.82,"y":-1.87},{"x":1.97,"y":-1.85},{"x":2.64,"y":-1.93},{"x":3.30,"y":-1.93},{"x":2.85,"y":-1.97},{"x":1.66,"y":-2.03},{"x":1.73,"y":-2.02},{"x":1.41,"y":-2.09},{"x":1.70,"y":-2.10},{"x":1.52,"y":-2.16},{"x":2.34,"y":-2.12},{"x":2.44,"y":-2.19},{"x":3.73,"y":-2.18},{"x":1.39,"y":-2.25},{"x":1.81,"y":-2.24},{"x":2.03,"y":-2.24},{"x":1.97,"y":-2.32},{"x":1.99,"y":-2.37},{"x":1.41,"y":-2.40},{"x":2.25,"y":-2.43},{"x":2.63,"y":-2.42},{"x":2.08,"y":-2.48},{"x":1.54,"y":-2.59},{"x":2.70,"y":-2.67},{"x":1.84,"y":-2.73},{"x":2.15,"y":-2.81},{"x":2.60,"y":-3.00},{"x":1.85,"y":-3.11},{"x":1.97,"y":-3.19},{"x":4.05,"y":1.33},{"x":2.08,"y":0.75},
{"x":0.05,"y":0.93},{"x":0.09,"y":0.88},{"x":0.14,"y":0.95},{"x":0.18,"y":0.84},{"x":0.22,"y":0.92},{"x":0.25,"y":0.87},{"x":0.29,"y":0.82},{"x":0.33,"y":0.89},{"x":0.37,"y":0.91},{"x":0.44,"y":0.86},{"x":0.52,"y":0.89},{"x":0.58,"y":0.93},{"x":0.03,"y":0.74},{"x":0.08,"y":0.71},{"x":0.10,"y":0.66},{"x":0.14,"y":0.72},{"x":0.18,"y":0.69},{"x":0.21,"y":0.74},{"x":0.23,"y":0.60},{"x":0.27,"y":0.72},{"x":0.29,"y":0.66},{"x":0.33,"y":0.74},{"x":0.38,"y":0.71},{"x":0.41,"y":0.66},{"x":0.45,"y":0.74},{"x":0.48,"y":0.70},{"x":0.52,"y":0.72},{"x":0.55,"y":0.62},{"x":0.63,"y":0.70},{"x":0.69,"y":0.64},{"x":0.09,"y":0.62},{"x":0.17,"y":0.60},{"x":0.31,"y":0.57},{"x":0.43,"y":0.55},{"x":0.48,"y":0.58},{"x":0.58,"y":0.57},{"x":0.05,"y":0.57},{"x":0.19,"y":0.55},{"x":0.26,"y":0.56},{"x":0.39,"y":0.61},
{"x":0.04,"y":0.40},{"x":0.06,"y":0.48},{"x":0.10,"y":0.35},{"x":0.11,"y":0.43},{"x":0.15,"y":0.38},{"x":0.18,"y":0.46},{"x":0.20,"y":0.31},{"x":0.24,"y":0.42},{"x":0.26,"y":0.34},{"x":0.30,"y":0.47},{"x":0.32,"y":0.40},{"x":0.35,"y":0.31},{"x":0.39,"y":0.45},{"x":0.42,"y":0.34},{"x":0.46,"y":0.42},{"x":0.48,"y":0.36},{"x":0.51,"y":0.46},{"x":0.55,"y":0.40},{"x":0.60,"y":0.47},{"x":0.63,"y":0.35},{"x":0.68,"y":0.48},{"x":0.71,"y":0.38},{"x":0.76,"y":0.45},{"x":0.80,"y":0.36},{"x":0.55,"y":0.30},
{"x":0.03,"y":0.19},{"x":0.05,"y":0.25},{"x":0.07,"y":0.12},{"x":0.10,"y":0.22},{"x":0.11,"y":0.05},{"x":0.13,"y":0.27},{"x":0.16,"y":0.09},{"x":0.17,"y":0.21},{"x":0.19,"y":0.14},{"x":0.21,"y":0.28},{"x":0.22,"y":0.02},{"x":0.24,"y":0.11},{"x":0.26,"y":0.24},{"x":0.28,"y":0.06},{"x":0.29,"y":0.17},{"x":0.31,"y":0.26},{"x":0.34,"y":0.04},{"x":0.34,"y":0.20},{"x":0.36,"y":0.12},{"x":0.38,"y":0.27},{"x":0.39,"y":0.07},{"x":0.41,"y":0.19},{"x":0.43,"y":0.11},{"x":0.44,"y":0.29},{"x":0.46,"y":0.03},{"x":0.47,"y":0.15},{"x":0.50,"y":0.24},{"x":0.51,"y":0.05},{"x":0.53,"y":0.12},{"x":0.55,"y":0.27},{"x":0.57,"y":0.02},{"x":0.58,"y":0.19},{"x":0.61,"y":0.09},{"x":0.64,"y":0.23},{"x":0.66,"y":0.03},{"x":0.68,"y":0.16},{"x":0.71,"y":0.26},{"x":0.74,"y":0.07},{"x":0.76,"y":0.18},{"x":0.80,"y":0.12},{"x":0.83,"y":0.03},{"x":0.86,"y":0.24},{"x":0.90,"y":0.09},{"x":0.92,"y":0.16},{"x":0.96,"y":0.05},
{"x":0.03,"y":-0.17},{"x":0.04,"y":-0.26},{"x":0.06,"y":-0.07},{"x":0.07,"y":-0.22},{"x":0.09,"y":-0.13},{"x":0.10,"y":-0.02},{"x":0.12,"y":-0.27},{"x":0.13,"y":-0.10},{"x":0.15,"y":-0.20},{"x":0.16,"y":-0.05},{"x":0.18,"y":-0.24},{"x":0.19,"y":-0.12},{"x":0.21,"y":-0.01},{"x":0.22,"y":-0.18},{"x":0.23,"y":-0.27},{"x":0.25,"y":-0.08},{"x":0.26,"y":-0.21},{"x":0.28,"y":-0.14},{"x":0.29,"y":-0.29},{"x":0.30,"y":-0.04},{"x":0.32,"y":-0.19},{"x":0.33,"y":-0.25},{"x":0.34,"y":-0.10},{"x":0.36,"y":-0.23},{"x":0.37,"y":-0.02},{"x":0.39,"y":-0.15},{"x":0.40,"y":-0.28},{"x":0.41,"y":-0.08},{"x":0.43,"y":-0.20},{"x":0.44,"y":-0.12},{"x":0.46,"y":-0.25},{"x":0.47,"y":-0.05},{"x":0.49,"y":-0.17},{"x":0.50,"y":-0.29},{"x":0.51,"y":-0.10},{"x":0.53,"y":-0.22},{"x":0.54,"y":-0.03},{"x":0.56,"y":-0.14},{"x":0.58,"y":-0.27},{"x":0.59,"y":-0.08},{"x":0.61,"y":-0.19},{"x":0.63,"y":-0.24},{"x":0.64,"y":-0.11},{"x":0.66,"y":-0.02},{"x":0.67,"y":-0.21},{"x":0.69,"y":-0.09},{"x":0.72,"y":-0.16},{"x":0.73,"y":-0.28},{"x":0.75,"y":-0.04},{"x":0.78,"y":-0.20},{"x":0.79,"y":-0.09},{"x":0.82,"y":-0.25},{"x":0.85,"y":-0.12},{"x":0.86,"y":-0.02},{"x":0.89,"y":-0.17},{"x":0.91,"y":-0.27},{"x":0.93,"y":-0.06},{"x":0.97,"y":-0.21},{"x":1.02,"y":-0.12},{"x":1.09,"y":-0.22},
{"x":0.04,"y":-0.39},{"x":0.05,"y":-0.52},{"x":0.06,"y":-0.45},{"x":0.08,"y":-0.33},{"x":0.09,"y":-0.57},{"x":0.10,"y":-0.42},{"x":0.12,"y":-0.36},{"x":0.13,"y":-0.50},{"x":0.14,"y":-0.59},{"x":0.16,"y":-0.41},{"x":0.17,"y":-0.31},{"x":0.18,"y":-0.55},{"x":0.20,"y":-0.47},{"x":0.21,"y":-0.37},{"x":0.22,"y":-0.52},{"x":0.23,"y":-0.43},{"x":0.25,"y":-0.58},{"x":0.26,"y":-0.31},{"x":0.27,"y":-0.49},{"x":0.28,"y":-0.39},{"x":0.30,"y":-0.54},{"x":0.31,"y":-0.45},{"x":0.32,"y":-0.33},{"x":0.33,"y":-0.58},{"x":0.34,"y":-0.49},{"x":0.36,"y":-0.40},{"x":0.37,"y":-0.30},{"x":0.38,"y":-0.53},{"x":0.39,"y":-0.44},{"x":0.41,"y":-0.57},{"x":0.41,"y":-0.35},{"x":0.42,"y":-0.48},{"x":0.44,"y":-0.39},{"x":0.45,"y":-0.53},{"x":0.46,"y":-0.31},{"x":0.47,"y":-0.44},{"x":0.48,"y":-0.57},{"x":0.50,"y":-0.35},{"x":0.51,"y":-0.47},{"x":0.52,"y":-0.52},{"x":0.53,"y":-0.38},{"x":0.54,"y":-0.59},{"x":0.55,"y":-0.48},{"x":0.56,"y":-0.32},{"x":0.58,"y":-0.43},{"x":0.59,"y":-0.55},{"x":0.60,"y":-0.36},{"x":0.61,"y":-0.47},{"x":0.63,"y":-0.52},{"x":0.64,"y":-0.39},{"x":0.65,"y":-0.58},{"x":0.66,"y":-0.44},{"x":0.68,"y":-0.33},{"x":0.69,"y":-0.51},{"x":0.71,"y":-0.40},{"x":0.72,"y":-0.56},{"x":0.74,"y":-0.46},{"x":0.75,"y":-0.37},{"x":0.77,"y":-0.52},{"x":0.78,"y":-0.42},{"x":0.80,"y":-0.59},{"x":0.81,"y":-0.35},{"x":0.83,"y":-0.47},{"x":0.85,"y":-0.56},{"x":0.87,"y":-0.42},{"x":0.89,"y":-0.33},{"x":0.91,"y":-0.51},{"x":0.95,"y":-0.40},{"x":0.99,"y":-0.54},{"x":1.04,"y":-0.38},
{"x":0.06,"y":-0.71},{"x":0.08,"y":-0.82},{"x":0.09,"y":-0.65},{"x":0.11,"y":-0.77},{"x":0.12,"y":-0.88},{"x":0.13,"y":-0.62},{"x":0.15,"y":-0.70},{"x":0.16,"y":-0.84},{"x":0.18,"y":-0.63},{"x":0.19,"y":-0.78},{"x":0.21,"y":-0.69},{"x":0.22,"y":-0.87},{"x":0.23,"y":-0.61},{"x":0.25,"y":-0.81},{"x":0.26,"y":-0.72},{"x":0.27,"y":-0.66},{"x":0.29,"y":-0.89},{"x":0.30,"y":-0.77},{"x":0.31,"y":-0.68},{"x":0.33,"y":-0.84},{"x":0.34,"y":-0.62},{"x":0.35,"y":-0.74},{"x":0.37,"y":-0.81},{"x":0.38,"y":-0.67},{"x":0.39,"y":-0.88},{"x":0.41,"y":-0.71},{"x":0.42,"y":-0.63},{"x":0.43,"y":-0.83},{"x":0.44,"y":-0.77},{"x":0.46,"y":-0.66},{"x":0.47,"y":-0.89},{"x":0.48,"y":-0.71},{"x":0.49,"y":-0.81},{"x":0.51,"y":-0.63},{"x":0.52,"y":-0.75},{"x":0.53,"y":-0.86},{"x":0.55,"y":-0.67},{"x":0.56,"y":-0.79},{"x":0.57,"y":-0.61},{"x":0.58,"y":-0.83},{"x":0.60,"y":-0.72},{"x":0.61,"y":-0.88},{"x":0.62,"y":-0.65},{"x":0.63,"y":-0.77},{"x":0.65,"y":-0.84},{"x":0.66,"y":-0.70},{"x":0.68,"y":-0.61},{"x":0.69,"y":-0.80},{"x":0.70,"y":-0.88},{"x":0.72,"y":-0.68},{"x":0.73,"y":-0.79},{"x":0.74,"y":-0.63},{"x":0.76,"y":-0.85},{"x":0.77,"y":-0.73},{"x":0.79,"y":-0.66},{"x":0.80,"y":-0.82},{"x":0.82,"y":-0.89},{"x":0.83,"y":-0.69},{"x":0.85,"y":-0.78},{"x":0.86,"y":-0.64},{"x":0.88,"y":-0.86},{"x":0.90,"y":-0.74},{"x":0.92,"y":-0.66},{"x":0.93,"y":-0.83},{"x":0.95,"y":-0.71},{"x":0.97,"y":-0.88},{"x":1.00,"y":-0.64},{"x":1.03,"y":-0.80},{"x":1.07,"y":-0.70},{"x":1.12,"y":-0.87},
{"x":0.10,"y":-1.02},{"x":0.13,"y":-0.93},{"x":0.16,"y":-1.12},{"x":0.18,"y":-1.01},{"x":0.20,"y":-0.94},{"x":0.22,"y":-1.21},{"x":0.23,"y":-1.07},{"x":0.25,"y":-0.97},{"x":0.26,"y":-1.14},{"x":0.28,"y":-1.25},{"x":0.29,"y":-1.03},{"x":0.31,"y":-0.92},{"x":0.32,"y":-1.10},{"x":0.34,"y":-1.19},{"x":0.35,"y":-0.99},{"x":0.37,"y":-1.06},{"x":0.38,"y":-1.27},{"x":0.40,"y":-0.95},{"x":0.41,"y":-1.13},{"x":0.43,"y":-1.04},{"x":0.44,"y":-1.21},{"x":0.46,"y":-0.91},{"x":0.47,"y":-1.09},{"x":0.49,"y":-1.17},{"x":0.50,"y":-0.99},{"x":0.52,"y":-1.28},{"x":0.53,"y":-1.05},{"x":0.55,"y":-0.93},{"x":0.56,"y":-1.20},{"x":0.58,"y":-1.11},{"x":0.59,"y":-0.98},{"x":0.61,"y":-1.24},{"x":0.62,"y":-1.04},{"x":0.64,"y":-0.92},{"x":0.65,"y":-1.16},{"x":0.67,"y":-1.07},{"x":0.68,"y":-1.27},{"x":0.70,"y":-0.96},{"x":0.71,"y":-1.19},{"x":0.73,"y":-1.10},{"x":0.74,"y":-0.93},{"x":0.76,"y":-1.23},{"x":0.77,"y":-1.03},{"x":0.79,"y":-1.15},{"x":0.80,"y":-0.97},{"x":0.82,"y":-1.26},{"x":0.83,"y":-1.06},{"x":0.85,"y":-0.94},{"x":0.86,"y":-1.20},{"x":0.88,"y":-1.12},{"x":0.89,"y":-1.00},{"x":0.91,"y":-1.29},{"x":0.93,"y":-1.08},{"x":0.95,"y":-0.96},{"x":0.97,"y":-1.18},{"x":0.99,"y":-1.10},{"x":1.02,"y":-1.25},{"x":1.05,"y":-0.99},{"x":1.09,"y":-1.16},{"x":1.14,"y":-1.06}
]},
"mark": {"type": "circle", "size": 20, "color": "#006400", "opacity": 1},
"encoding": {
"x": {"field": "x", "type": "quantitative", "scale": {"domain": [-0.16, 4.16], "nice": false, "zero": false},
"axis": {"values": [0, 1, 2, 3, 4], "title": "Dividend yield, %", "domain": false, "grid": true, "gridColor": "#d0d0d0", "gridDash": [4, 3], "gridWidth": 1, "tickSize": 22, "tickColor": "black", "tickWidth": 1.5, "labelFontSize": 46, "labelPadding": 16, "labelColor": "black", "labelFont": "Liberation Sans", "labelFlush": false, "labelExpr": "'' + datum.value", "titleFont": "Liberation Sans", "titleFontSize": 46.5, "titleFontWeight": "normal", "titleColor": "black", "titleX": 510, "titleY": 160, "titleBaseline": "alphabetic", "titleAlign": "center"}},
"y": {"field": "y", "type": "quantitative", "scale": {"domain": [-3.24, 3.25], "nice": false, "zero": false},
"axis": {"values": [-3, -2, -1, 0, 1, 2, 3], "title": "Night gap return, %", "domain": false, "grid": true, "gridColor": "#d0d0d0", "gridDash": [4, 3], "gridWidth": 1, "tickSize": 22, "tickColor": "black", "tickWidth": 1.5, "labelFontSize": 46, "labelPadding": 30, "labelAngle": -90, "labelAlign": "center", "labelBaseline": "alphabetic", "labelColor": "black", "labelFont": "Liberation Sans", "labelFlush": false, "labelExpr": "'' + datum.value", "titleFont": "Liberation Sans", "titleFontSize": 46.5, "titleFontWeight": "normal", "titleColor": "black", "titleAngle": -90, "titleX": -136, "titleY": 446, "titleBaseline": "alphabetic", "titleAlign": "center"}}
}
},
{
"data": {"values": [
{"model": "linear model,y = -0,1 - 0,61x", "x": -0.16, "y": -0.0024},
{"model": "linear model,y = -0,1 - 0,61x", "x": 4.16, "y": -2.6376},
{"model": "quantile model, y = 0,07 - 0,91x", "x": -0.16, "y": 0.2156},
{"model": "quantile model, y = 0,07 - 0,91x", "x": 4.16, "y": -3.7156}
]},
"mark": {"type": "line", "strokeWidth": 4, "clip": true},
"encoding": {
"x": {"field": "x", "type": "quantitative"},
"y": {"field": "y", "type": "quantitative"},
"color": {"field": "model", "type": "nominal",
"scale": {"domain": ["linear model,y = -0,1 - 0,61x", "quantile model, y = 0,07 - 0,91x"], "range": ["black", "blue"]},
"legend": {"orient": "none", "legendX": 274, "legendY": 34, "title": null, "symbolType": "M-6,0H6", "symbolSize": 121, "symbolStrokeWidth": 2, "labelFontSize": 31, "labelFont": "Liberation Sans", "labelColor": "black", "labelOffset": 46.5, "padding": 13, "symbolOffset": 36.5, "rowPadding": -7, "fillColor": "white", "strokeColor": "black", "labelLimit": 1000}}
}
}
]
}
